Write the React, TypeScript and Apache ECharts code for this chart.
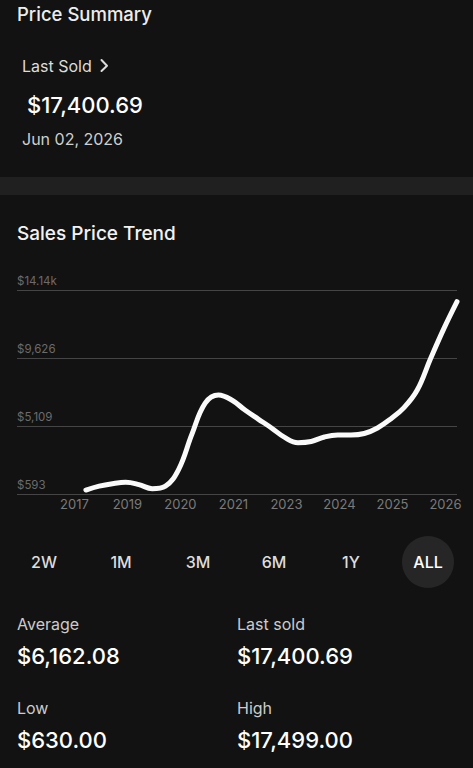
import React, { useEffect, useRef } from "react";
import * as echarts from "echarts";

// ---- data ----
const xLabels = ["2017", "2019", "2020", "2021", "2023", "2024", "2025", "2026"];
// position along the year slots (0 = 2017 ... 7 = 2026) and price
const pricePos = [0, 0.25, 0.5, 0.75, 1, 1.25, 1.5, 1.75, 2, 2.25, 2.5, 2.75, 3, 3.25, 3.5, 3.75, 4, 4.25, 4.5, 4.75, 5, 5.25, 5.5, 5.75, 6, 6.25, 6.5, 6.75, 7];
const priceValues = [870, 1130, 1290, 1380, 1230, 960, 1130, 2250, 4590, 6650, 7190, 6860, 6190, 5590, 5000, 4370, 4020, 4100, 4400, 4530, 4530, 4630, 5000, 5600, 6350, 7520, 9600, 11590, 13400];
const yTicks = [593, 5109, 9626, 14142];
const yTickLabels = ["$593", "$5,109", "$9,626", "$14.14k"];
const ranges = ["2W", "1M", "3M", "6M", "1Y", "ALL"];
const activeRange = "ALL";
const statLabels = ["Average", "Last sold", "Low", "High"];
const statValues = ["$6,162.08", "$17,400.69", "$630.00", "$17,499.00"];
const lastSoldPrice = "$17,400.69";
const lastSoldDate = "Jun 02, 2026";

const FONT = "Inter, 'Noto Sans', sans-serif";

export default function App() {
  const ref = useRef<HTMLDivElement>(null);
  useEffect(() => {
    if (!ref.current) return;
    const chart = echarts.init(ref.current, undefined, { renderer: "svg" });

    const graphics: any[] = [
      { type: "text", x: 17, y: 14, style: { text: "Price Summary", fill: "#ededed", font: `500 18.5px ${FONT}`, verticalAlign: "middle" } },
      { type: "text", x: 22, y: 65.5, style: { text: "Last Sold", fill: "#dcdcdc", font: `400 16px ${FONT}`, verticalAlign: "middle" } },
      { type: "polyline", shape: { points: [[101.5, 60], [107, 65.7], [101.5, 71]] }, style: { stroke: "#dcdcdc", lineWidth: 2, fill: null, lineCap: "round", lineJoin: "round" } },
      { type: "text", x: 27, y: 104.5, style: { text: lastSoldPrice, fill: "#ffffff", font: `500 22px ${FONT}`, verticalAlign: "middle" } },
      { type: "text", x: 22, y: 139, style: { text: lastSoldDate, fill: "#cfcfcf", font: `400 16px ${FONT}`, verticalAlign: "middle" } },
      { type: "rect", shape: { x: 0, y: 177, width: 473, height: 18 }, style: { fill: "#202020" } },
      { type: "text", x: 17, y: 233, style: { text: "Sales Price Trend", fill: "#f2f2f2", font: `500 19px ${FONT}`, verticalAlign: "middle" } },
    ];

    const btnX = [44, 121, 198, 274, 351, 428];
    ranges.forEach((r, i) => {
      if (r === activeRange) {
        graphics.push({ type: "circle", shape: { cx: btnX[i], cy: 562, r: 26 }, style: { fill: "#262626" } });
      }
      graphics.push({
        type: "text", x: btnX[i], y: 562,
        style: { text: r, fill: r === activeRange ? "#ffffff" : "#dddddd", font: `500 16px ${FONT}`, align: "center", verticalAlign: "middle" },
      });
    });

    const statPos = [[17, 624, 656], [237, 624, 656], [17, 708, 739.5], [237, 708, 739.5]];
    statLabels.forEach((l, i) => {
      const [x, ly, vy] = statPos[i];
      graphics.push({ type: "text", x, y: ly, style: { text: l, fill: "#cccccc", font: `400 16px ${FONT}`, verticalAlign: "middle" } });
      graphics.push({ type: "text", x, y: vy, style: { text: statValues[i], fill: "#ffffff", font: `500 22px ${FONT}`, verticalAlign: "middle" } });
    });

    chart.setOption({
      animation: false,
      backgroundColor: "#121212",
      textStyle: { fontFamily: FONT },
      grid: { left: 17, right: 16, top: 290.5, bottom: 273.8, containLabel: false, outerBoundsMode: "none" },
      xAxis: {
        type: "value",
        min: -1.3,
        max: 7,
        axisLine: { show: false },
        axisTick: { show: false },
        splitLine: { show: false },
        axisLabel: {
          customValues: xLabels.map((_, i) => i),
          formatter: (v: number) => xLabels[Math.round(v)] ?? "",
          color: "#7a7a7a",
          fontSize: 13,
          fontFamily: FONT,
          margin: 3,
          padding: [0, 23, 0, 0],
        },
      },
      yAxis: {
        type: "value",
        min: yTicks[0],
        max: yTicks[yTicks.length - 1],
        axisLine: { show: false },
        axisTick: { show: false, customValues: yTicks },
        splitLine: { show: true, lineStyle: { color: "#454545", width: 1 } },
        axisLabel: {
          inside: true,
          customValues: yTicks,
          formatter: (v: number) => yTickLabels[yTicks.indexOf(v)] ?? "",
          color: "#6b6b6b",
          fontSize: 11.5,
          fontFamily: FONT,
          margin: 0,
          verticalAlign: "bottom",
          lineHeight: 11,
          padding: [0, 0, 4, 0],
        },
      },
      series: [
        {
          type: "line",
          data: pricePos.map((p, i) => [p, priceValues[i]]),
          smooth: 0.4,
          showSymbol: false,
          symbol: "none",
          lineStyle: { color: "#fafafa", width: 5, cap: "round", join: "round" },
          z: 5,
        },
      ],
      graphic: graphics,
    });
    return () => chart.dispose();
  }, []);
  return (
    <div style={{ position: "fixed", left: 0, top: 0, width: 473, height: 768, background: "#121212" }}>
      <div ref={ref} style={{ width: 473, height: 768 }} />
    </div>
  );
}
